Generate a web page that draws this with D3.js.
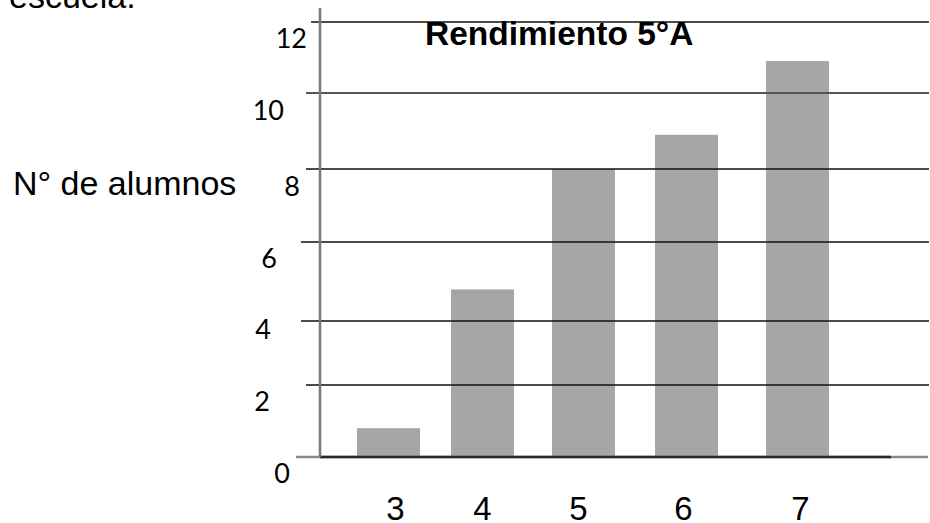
<!DOCTYPE html>
<html>
<head>
<meta charset="utf-8">
<script src="https://cdn.jsdelivr.net/npm/d3@7/dist/d3.min.js"></script>
<style>
  html, body { margin: 0; padding: 0; background: #fff; }
  svg { display: block; }
</style>
</head>
<body>
<svg id="chart" width="930" height="523"></svg>
<script>
// Data: grade (nota) and number of students (N° de alumnos)
const grades = [3, 4, 5, 6, 7];
const students = [0.8, 4.8, 8, 8.9, 10.9];
const yTicks = [0, 2, 4, 6, 8, 10, 12];
const chartTitle = "Rendimiento 5°A";
const yTitle = "N° de alumnos";
const leadText = "escuela.";

const svg = d3.select("#chart");

// Hand-drawn layout: the axis stops are not evenly spaced, so both scales
// are piecewise linear through the positions of each tick.
const y = d3.scaleLinear()
  .domain(yTicks)
  .range([457, 385, 321, 242, 169, 93, 22]);

const x = d3.scaleLinear()
  .domain(grades)
  .range([388.5, 482.5, 583.5, 686.5, 797.5]);

const barWidth = 63;
const axisX = 320;

// Sentence fragment running off the top of the page
svg.append("text")
  .attr("x", 9).attr("y", 8)
  .attr("font-family", "'Liberation Sans', Arial, sans-serif")
  .attr("font-size", 34)
  .attr("fill", "#000")
  .text(leadText);

// Bars
svg.append("g").selectAll("rect")
  .data(grades.map((g, i) => ({ g, v: students[i] })))
  .join("rect")
  .attr("x", d => x(d.g) - barWidth / 2)
  .attr("width", barWidth)
  .attr("y", d => y(d.v))
  .attr("height", d => y(0) - y(d.v))
  .attr("fill", "#a6a6a6");

// Horizontal rules at each tick, each starting a little left of the axis
const ruleStart = { 0: 296, 2: 306, 4: 301, 6: 301, 8: 306, 10: 306, 12: 311 };
const ruleStyle = {
  10: { stroke: "#555", width: 2 }
};
svg.append("g").selectAll("line")
  .data(yTicks.filter(t => t !== 0))
  .join("line")
  .attr("x1", t => ruleStart[t])
  .attr("x2", 929)
  .attr("y1", t => y(t))
  .attr("y2", t => y(t))
  .attr("stroke", t => (ruleStyle[t] ? ruleStyle[t].stroke : "#111"))
  .attr("stroke-width", t => (ruleStyle[t] ? ruleStyle[t].width : 1.3));

// Baseline: grey stubs at both ends, dark in the middle
const base = svg.append("g");
base.append("line")
  .attr("x1", ruleStart[0]).attr("x2", 928)
  .attr("y1", y(0)).attr("y2", y(0))
  .attr("stroke", "#8a8a8a").attr("stroke-width", 2.5);
base.append("line")
  .attr("x1", axisX).attr("x2", 891)
  .attr("y1", y(0)).attr("y2", y(0))
  .attr("stroke", "#2b2b2b").attr("stroke-width", 2.5);

// Vertical axis with its tick labels placed freely beside it
const yAxis = d3.axisLeft(y).tickValues(yTicks).tickSize(0).tickPadding(0);
const gy = svg.append("g")
  .attr("transform", `translate(${axisX},0)`)
  .call(yAxis);
gy.select(".domain").remove();
const labelDx = { 0: -30, 2: -50, 4: -49, 6: -43, 8: -20, 10: -36, 12: -13 };
const labelDy = { 0: 25, 2: 25, 4: 17, 6: 25, 8: 26, 10: 26, 12: 25 };
gy.selectAll(".tick text")
  .attr("x", t => labelDx[t])
  .attr("dy", null)
  .attr("y", t => labelDy[t])
  .attr("text-anchor", "end")
  .attr("font-family", "Lato, 'Open Sans', sans-serif")
  .attr("font-size", 27)
  .attr("fill", "#000");

svg.append("line")
  .attr("x1", axisX).attr("x2", axisX)
  .attr("y1", 8).attr("y2", y(0))
  .attr("stroke", "#7a7a7a").attr("stroke-width", 2.5);

// Grade labels under the bars
const xAxis = d3.axisBottom(x).tickValues(grades).tickSize(0).tickFormat(d3.format("d"));
const gx = svg.append("g")
  .attr("transform", "translate(0,520)")
  .call(xAxis);
gx.select(".domain").remove();
const gradeDx = { 3: 6.5, 4: -0.5, 5: -5.5, 6: -3.5, 7: 2.5 };
gx.selectAll(".tick text")
  .attr("x", g => gradeDx[g])
  .attr("y", 0)
  .attr("dy", null)
  .attr("font-family", "'Liberation Sans', Arial, sans-serif")
  .attr("font-size", 33)
  .attr("fill", "#000");

// Chart title
svg.append("text")
  .attr("x", 425).attr("y", 45)
  .attr("font-family", "'Liberation Sans', Arial, sans-serif")
  .attr("font-weight", "bold")
  .attr("font-size", 33.5)
  .attr("fill", "#000")
  .text(chartTitle);

// Y-axis title
svg.append("text")
  .attr("x", 13).attr("y", 195)
  .attr("font-family", "'Liberation Sans', Arial, sans-serif")
  .attr("font-size", 34)
  .attr("fill", "#000")
  .text(yTitle);
</script>
</body>
</html>
